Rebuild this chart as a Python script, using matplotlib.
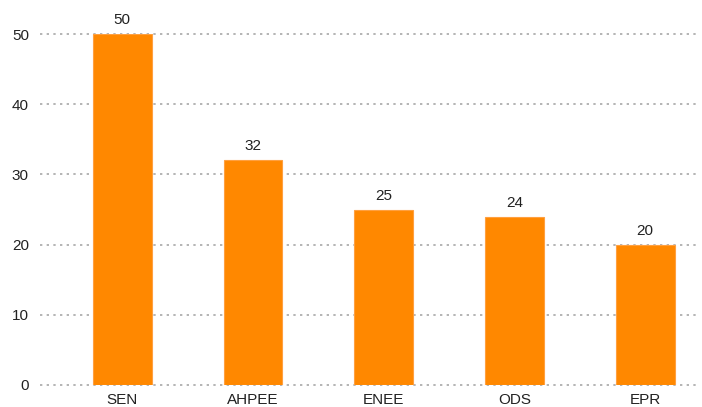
import matplotlib
matplotlib.use("Agg")
import matplotlib.pyplot as plt

# Data
parties = ["SEN", "AHPEE", "ENEE", "ODS", "EPR"]
seats = [50, 32, 25, 24, 20]
yticks = [0, 10, 20, 30, 40, 50]

plt.rcParams['font.family'] = ['Liberation Sans', 'DejaVu Sans']

fig = plt.figure(figsize=(7.02, 4.07), dpi=100)
ax = fig.add_axes([40/702, 22/407, 660/702, 351/407])

x = list(range(len(parties)))
bars = ax.bar(x, seats, width=0.45, color="#ff8800", edgecolor="#ffa040",
              linewidth=0.8, zorder=2)

for xi, v in zip(x, seats):
    ax.annotate(str(v), (xi, v), xytext=(0, 5), textcoords="offset points",
                ha="center", va="bottom", fontsize=11, color="#222222",
                annotation_clip=False)

ax.set_xlim(-0.63, 4.42)
ax.set_ylim(0, 50)
ax.set_yticks(yticks)
ax.set_xticks(x)
ax.set_xticklabels(parties)
ax.tick_params(axis="both", length=0, labelsize=11, colors="#222222")
ax.tick_params(axis="y", pad=8)
ax.tick_params(axis="x", pad=6)

for y in yticks:
    ax.axhline(y, color="#a8a8a8", linestyle=(0, (1.4, 2.6)), linewidth=1.2,
               zorder=1, clip_on=False)

for s in ax.spines.values():
    s.set_visible(False)

fig.savefig("out.png", dpi=100)
